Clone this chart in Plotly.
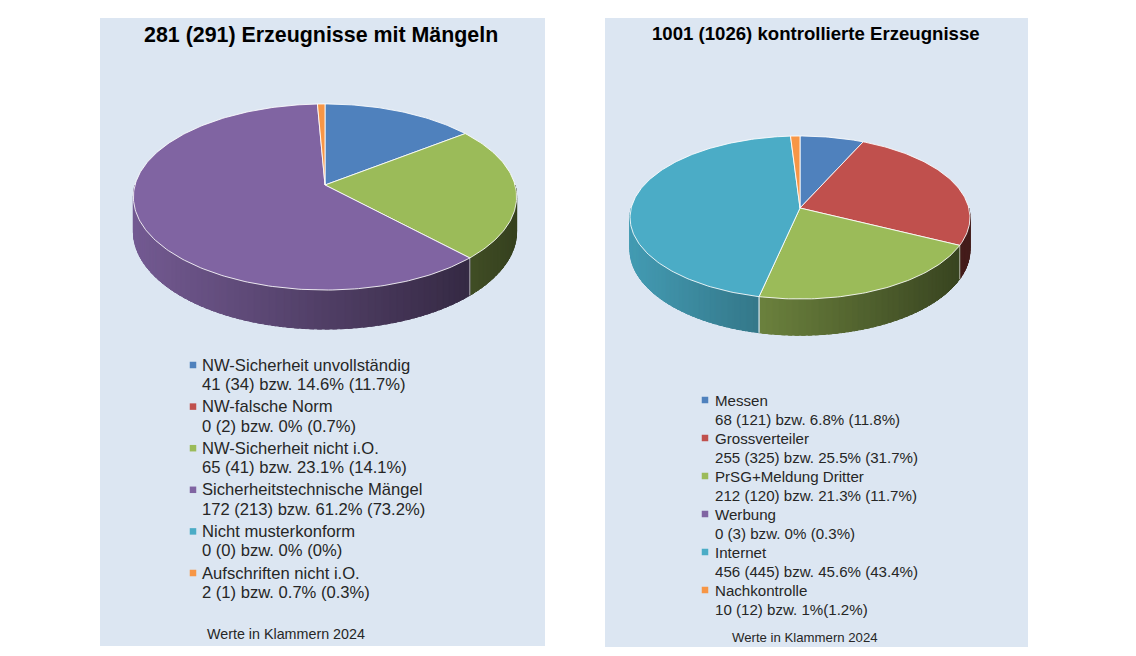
import numpy as np
import plotly.graph_objects as go

# Werte 2025 / 2024 (in Klammern)
maengel_namen = ["NW-Sicherheit unvollständig", "NW-falsche Norm", "NW-Sicherheit nicht i.O.",
                 "Sicherheitstechnische Mängel", "Nicht musterkonform", "Aufschriften nicht i.O."]
maengel_werte = [41, 0, 65, 172, 0, 2]
maengel_vorjahr = [34, 2, 41, 213, 0, 1]
maengel_prozent = ["14.6% (11.7%)", "0% (0.7%)", "23.1% (14.1%)", "61.2% (73.2%)", "0% (0%)", "0.7% (0.3%)"]

kontr_namen = ["Messen", "Grossverteiler", "PrSG+Meldung Dritter", "Werbung", "Internet", "Nachkontrolle"]
kontr_werte = [68, 255, 212, 0, 456, 10]
kontr_vorjahr = [121, 325, 120, 3, 445, 12]
kontr_prozent = ["6.8% (11.8%)", "25.5% (31.7%)", "21.3% (11.7%)", "0% (0.3%)", "45.6% (43.4%)", "1%(1.2%)"]

farben = ["#4f81bd", "#c0504d", "#9bbb59", "#8064a2", "#4bacc6", "#f79646"]

FONT = "Liberation Sans, Arial, sans-serif"
BG = "#dce6f2"


def shade(hexcol, f):
    h = hexcol.lstrip("#")
    r, g, b = (int(h[i:i + 2], 16) for i in (0, 2, 4))
    return "rgb(%d,%d,%d)" % (r * f, g * f, b * f)


def rim(p, t):
    # Punkt auf dem Rand, t im Uhrzeigersinn ab 12 Uhr, leichte Perspektive
    d = 1 + p["k"] * np.cos(t)
    return p["cx"] + p["rx"] * np.sin(t) / d, p["cy"] - p["ry"] * np.cos(t) / d


def add_pie(fig, werte, p):
    total = sum(werte)
    grenzen = np.concatenate([[0], np.cumsum(werte)]) / total * 2 * np.pi

    # Seitenwand (nur vordere Hälfte sichtbar)
    for i, v in enumerate(werte):
        if v == 0:
            continue
        a0, a1 = max(grenzen[i], np.pi / 2), min(grenzen[i + 1], 3 * np.pi / 2)
        if a1 <= a0:
            continue
        n = max(2, int(np.degrees(a1 - a0) / 2) + 1)
        ts = np.linspace(a0, a1, n)
        step = ts[1] - ts[0]
        for ta, tb in zip(ts[:-1], ts[1:]):
            # Streifen leicht überlappen lassen, damit keine Fugen sichtbar sind
            tt = np.array([ta, min(tb + step * 0.6, a1)])
            x, y = rim(p, tt)
            dd = p["depth"] / (1 + p["k"] * np.cos(tt))
            pos = (x.mean() - (p["cx"] - p["rx"])) / (2 * p["rx"])
            col = shade(farben[i], 0.9 - 0.55 * pos)
            fig.add_trace(go.Scatter(
                x=[x[0], x[1], x[1], x[0], x[0]],
                y=[y[0], y[1], y[1] + dd[1], y[0] + dd[0], y[0]],
                mode="lines", fill="toself", fillcolor=col,
                line=dict(color=col, width=1), hoverinfo="skip", showlegend=False))

    # Kanten zwischen den Segmenten auf der Seitenwand
    for b in grenzen[1:-1]:
        if np.pi / 2 < b < 3 * np.pi / 2:
            x, y = rim(p, np.array([b]))
            dd = p["depth"] / (1 + p["k"] * np.cos(b))
            fig.add_trace(go.Scatter(
                x=[x[0], x[0]], y=[y[0], y[0] + dd], mode="lines",
                line=dict(color="rgba(255,255,255,0.6)", width=1),
                hoverinfo="skip", showlegend=False))

    # Oberseite
    for i, v in enumerate(werte):
        if v == 0:
            continue
        n = max(3, int(np.degrees(grenzen[i + 1] - grenzen[i])) + 2)
        ts = np.linspace(grenzen[i], grenzen[i + 1], n)
        x, y = rim(p, ts)
        fig.add_trace(go.Scatter(
            x=np.concatenate([[p["cx"]], x, [p["cx"]]]),
            y=np.concatenate([[p["cy"]], y, [p["cy"]]]),
            mode="lines", fill="toself", fillcolor=farben[i],
            line=dict(color="rgba(255,255,255,0.85)", width=1),
            hoverinfo="skip", showlegend=False))


def add_legend(fig, namen, werte, vorjahr, prozent, x_box, x_text, y0, step, lh, size):
    for i, name in enumerate(namen):
        y = y0 + i * step
        fig.add_trace(go.Scatter(
            x=[x_box], y=[y], mode="markers",
            marker=dict(symbol="square", size=6.5, color=farben[i]),
            hoverinfo="skip", showlegend=False))
        detail = "%d (%d) bzw. %s" % (werte[i], vorjahr[i], prozent[i])
        for j, txt in enumerate([name, detail]):
            fig.add_annotation(x=x_text, y=y + j * lh, text=txt, showarrow=False,
                               xanchor="left", yanchor="middle",
                               font=dict(family=FONT, size=size, color="#262626"))


fig = go.Figure()

fig.add_shape(type="rect", x0=100, x1=545, y0=18, y1=646, fillcolor=BG, line_width=0, layer="below")
fig.add_shape(type="rect", x0=605, x1=1028, y0=18, y1=647, fillcolor=BG, line_width=0, layer="below")

add_pie(fig, maengel_werte, dict(cx=325, cy=185, rx=190, ry=91.5, k=0.129, depth=34))
add_pie(fig, kontr_werte, dict(cx=800, cy=208, rx=168.8, ry=80.4, k=0.1166, depth=32))

add_legend(fig, maengel_namen, maengel_werte, maengel_vorjahr, maengel_prozent,
           193, 200, 365, 41.6, 19.5, 16.6)
add_legend(fig, kontr_namen, kontr_werte, kontr_vorjahr, kontr_prozent,
           705, 713, 400, 38, 19, 15.1)

fig.add_annotation(x=321, y=35, text="<b>281 (291) Erzeugnisse mit Mängeln</b>", showarrow=False,
                   font=dict(family=FONT, size=21.4, color="black"))
fig.add_annotation(x=816, y=33, text="<b>1001 (1026) kontrollierte Erzeugnisse</b>", showarrow=False,
                   font=dict(family=FONT, size=18.6, color="black"))
fig.add_annotation(x=286, y=634, text="Werte in Klammern 2024", showarrow=False,
                   font=dict(family=FONT, size=14.3, color="#262626"))
fig.add_annotation(x=805, y=637, text="Werte in Klammern 2024", showarrow=False,
                   font=dict(family=FONT, size=13.2, color="#262626"))

fig.update_layout(width=1136, height=656, margin=dict(l=0, r=0, t=0, b=0),
                  paper_bgcolor="white", plot_bgcolor="white",
                  xaxis=dict(range=[0, 1136], visible=False, fixedrange=True),
                  yaxis=dict(range=[656, 0], visible=False, fixedrange=True))

fig.write_html("out.html", config={"displayModeBar": False},
               post_script="document.body.style.margin='0';document.body.style.overflow='hidden';")
